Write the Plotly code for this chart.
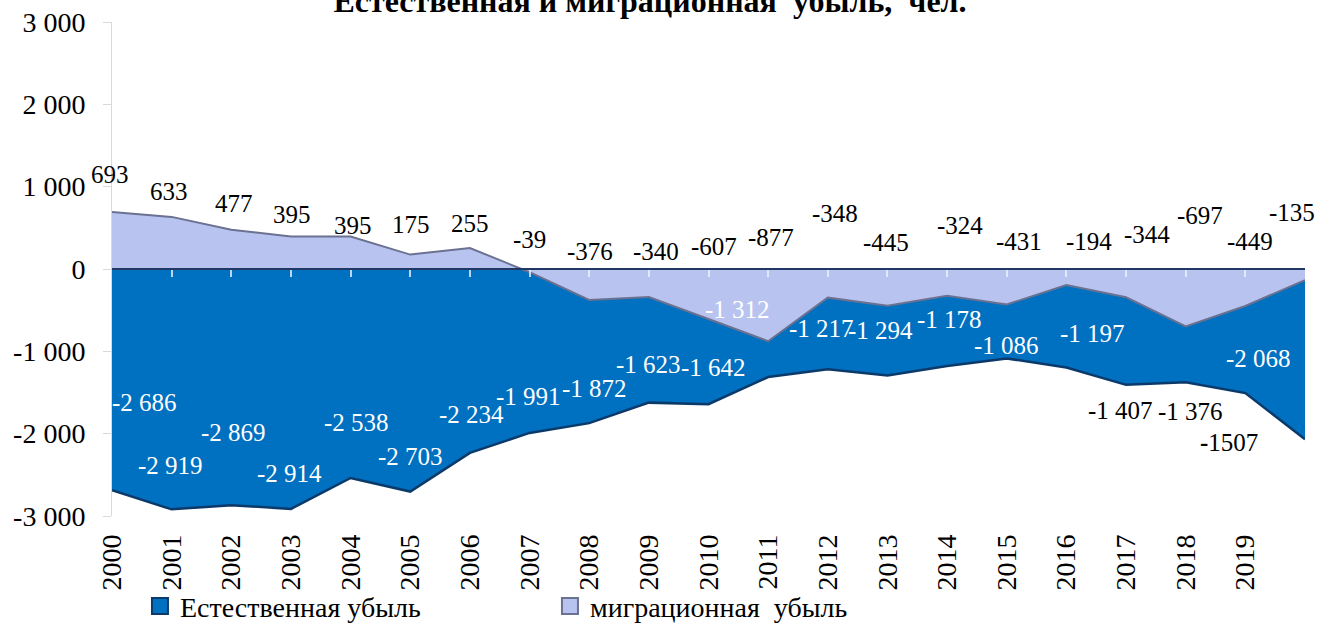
import plotly.graph_objects as go

# ---------------- data ----------------
years = list(range(2000, 2021))
tick_labels = [str(y) for y in range(2000, 2020)]
natural = [-2686, -2919, -2869, -2914, -2538, -2703, -2234, -1991, -1872, -1623,
           -1642, -1312, -1217, -1294, -1178, -1086, -1197, -1407, -1376, -1507, -2068]
migration = [693, 633, 477, 395, 395, 175, 255, -39, -376, -340,
             -607, -877, -348, -445, -324, -431, -194, -344, -697, -449, -135]
y_ticks = [-3000, -2000, -1000, 0, 1000, 2000, 3000]
series_names = ["Естественная убыль", "миграционная\u00a0\u00a0убыль"]

# label offsets in pixels (dx, dy up)
mig_off = [(-2, 37), (-3, 25), (3, 26), (1, 22), (2, 11), (1, 30), (0, 25), (0, 33),
           (1, 48), (7, 45), (5, 72), (3, 104), (7, 84), (-1, 63), (13, 70), (12, 63),
           (23, 43), (21, 63), (14, 111), (5, 64), (-13, 68)]
nat_off = [(32, 88), (-1, 44), (2, 73), (-1, 35), (6, 55), (0, 35), (2, 38), (-1, 36),
           (5, 35), (0, 38), (5, 37), (-31, 68), (-6, 41), (-7, 45), (2, 46), (0, 13),
           (26, 34), (-6, -26), (5, -29), (-16, -49), (-47, 81)]
nat_dark_labels = {17, 18, 19}

FONT = "Liberation Serif"
BLUE = "#0070C0"
BLUE_EDGE = "#0B3A6A"
LAV = "#B8C3F0"
LAV_EDGE = "#6B7190"


def fmt(v):
    s = f"{abs(v):,}".replace(",", " ")
    return ("-" if v < 0 else "") + s


fig = go.Figure()

fig.add_trace(go.Scatter(
    x=years, y=natural, name=series_names[0], mode="lines",
    fill="tozeroy", fillcolor=BLUE, showlegend=False,
    line=dict(color=BLUE_EDGE, width=2.5), hoverinfo="skip"))

fig.add_trace(go.Scatter(
    x=years, y=migration, name=series_names[1], mode="lines",
    fill="tozeroy", fillcolor=LAV, showlegend=False,
    line=dict(color=LAV_EDGE, width=2), hoverinfo="skip"))

# legend entries (square swatches)
fig.add_trace(go.Scatter(x=[None], y=[None], mode="markers", name=series_names[0],
                         marker=dict(symbol="square", size=18, color=BLUE,
                                     line=dict(color=BLUE_EDGE, width=2))))
fig.add_trace(go.Scatter(x=[None], y=[None], mode="markers", name=series_names[1],
                         marker=dict(symbol="square", size=18, color=LAV,
                                     line=dict(color=LAV_EDGE, width=2))))

# invisible trace to activate the zero-line axis
fig.add_trace(go.Scatter(x=years, y=natural, mode="none", xaxis="x2",
                         showlegend=False, hoverinfo="skip"))

annotations = []
for i, v in enumerate(migration):
    dx, dy = mig_off[i]
    annotations.append(dict(x=years[i], y=v, xref="x", yref="y", text=fmt(v),
                            showarrow=False, xshift=dx, yshift=dy,
                            font=dict(family=FONT, size=25, color="black")))
for i, v in enumerate(natural):
    dx, dy = nat_off[i]
    txt = fmt(v)
    if i == 19:
        txt = "<b>-</b>" + str(abs(v))
    annotations.append(dict(x=years[i], y=v, xref="x", yref="y", text=txt,
                            showarrow=False, xshift=dx, yshift=dy,
                            font=dict(family=FONT, size=25,
                                      color="black" if i in nat_dark_labels else "white")))

fig.update_layout(
    width=1333, height=625,
    margin=dict(l=112, r=28, t=22, b=109, autoexpand=False),
    paper_bgcolor="white", plot_bgcolor="white",
    font=dict(family=FONT, color="black"),
    title=dict(text="<b>Естественная и миграционная\u00a0\u00a0убыль,\u00a0\u00a0чел.</b>",
               x=0.4876, xanchor="center", xref="container",
               y=0.998, yanchor="middle", yref="container",
               font=dict(family=FONT, size=32, color="black")),
    xaxis=dict(range=[2000, 2020], tickvals=years[:20], ticktext=tick_labels,
               tickangle=-90, showline=False, ticks="", showgrid=False, zeroline=False,
               tickfont=dict(family=FONT, size=28, color="black"),
               ticklabelstandoff=12),
    xaxis2=dict(overlaying="x", matches="x", anchor="free", position=0.5, side="top",
                tickvals=years[1:20], ticks="inside", ticklen=7,
                tickcolor="rgba(235,240,255,0.8)", tickwidth=1.5,
                showticklabels=False, showline=True, linecolor="#1F3864", linewidth=2,
                showgrid=False, zeroline=False, layer="above traces"),
    yaxis=dict(range=[-3000, 3000], tickvals=y_ticks, ticktext=[fmt(t) for t in y_ticks],
               showgrid=False, zeroline=False, showline=True, linecolor="#D9D9D9",
               linewidth=1, ticks="outside", ticklen=8, tickcolor="#D9D9D9",
               ticklabelstandoff=12,
               tickfont=dict(family=FONT, size=28, color="black")),
    legend=dict(orientation="h", x=0.105, y=0.030, xanchor="left", yanchor="middle",
                xref="container", yref="container", entrywidth=365,
                entrywidthmode="pixels",
                font=dict(family=FONT, size=28, color="black"),
                bgcolor="rgba(0,0,0,0)", itemwidth=30, tracegroupgap=0),
    annotations=annotations,
    showlegend=True,
)

fig.write_html("out.html", config={"displayModeBar": False},
               post_script="document.body.style.margin='0px';")
